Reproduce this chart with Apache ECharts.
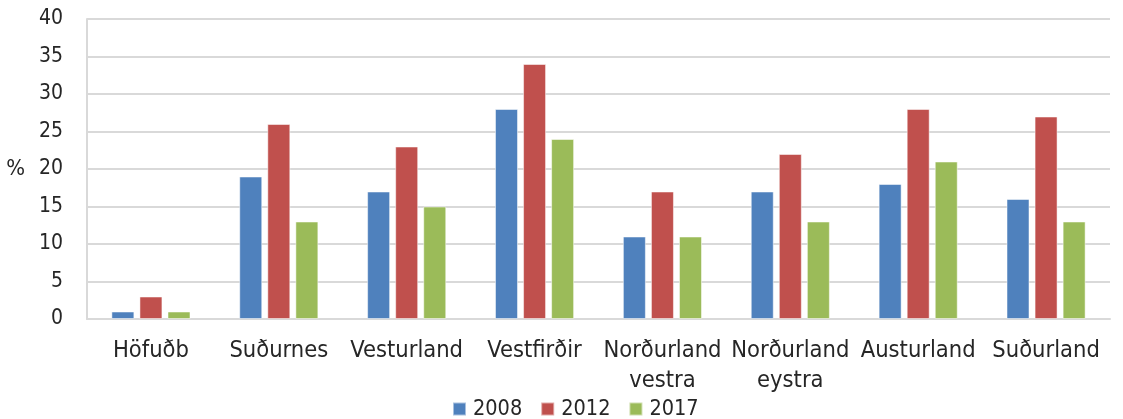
<!DOCTYPE html>
<html><head><meta charset="utf-8">
<script src="https://cdn.jsdelivr.net/npm/echarts@6/dist/echarts.min.js"></script>
<style>html,body{margin:0;padding:0;background:#fff}#c{width:1123px;height:419px}</style>
</head><body><div id="c"></div>
<script>
const categories = ['Höfuðb', 'Suðurnes', 'Vesturland', 'Vestfirðir', 'Norðurland\nvestra', 'Norðurland\neystra', 'Austurland', 'Suðurland'];
const s2008 = [1, 19, 17, 28, 11, 17, 18, 16];
const s2012 = [3, 26, 23, 34, 17, 22, 28, 27];
const s2017 = [1, 13, 15, 24, 11, 13, 21, 13];
const seriesNames = ['2008', '2012', '2017'];
const colors = ['#4f81bd', '#c0504d', '#9bbb59'];
const font = '"DejaVu Sans Condensed", "DejaVu Sans", sans-serif';
const txt = '#262626';
const chart = echarts.init(document.getElementById('c'));
const mk = (name, data, i) => ({
  name, type: 'bar', data, barWidth: 23, barGap: '22%',
  itemStyle: { color: colors[i], borderColor: 'rgba(255,255,255,0.5)', borderWidth: 1 }
});
chart.setOption({
  animation: false,
  textStyle: { fontFamily: font },
  grid: { left: 87, right: 13, top: 19, bottom: 100 },
  legend: {
    bottom: -6, left: 447, itemWidth: 13, itemHeight: 13, itemGap: 18,
    icon: 'rect',
    textStyle: { fontFamily: font, fontSize: 21.5, color: txt, padding: [0, 0, 0, 2] },
    data: seriesNames
  },
  xAxis: {
    type: 'category', data: categories,
    axisLine: { lineStyle: { color: '#d9d9d9', width: 2 } },
    axisTick: { show: false },
    axisLabel: { fontFamily: font, fontSize: 23.5, color: txt, margin: 17, lineHeight: 30, interval: 0 }
  },
  yAxis: {
    type: 'value', min: 0, max: 40, interval: 5,
    name: '%', nameLocation: 'middle', nameRotate: 0, nameGap: 62,
    nameTextStyle: { fontFamily: font, fontSize: 22, color: txt },
    axisLine: { show: true, lineStyle: { color: '#d9d9d9', width: 2 } },
    axisTick: { show: false },
    axisLabel: { fontFamily: font, fontSize: 21, color: txt, margin: 24 },
    splitLine: { lineStyle: { color: '#d9d9d9', width: 2 } }
  },
  series: [mk(seriesNames[0], s2008, 0), mk(seriesNames[1], s2012, 1), mk(seriesNames[2], s2017, 2)]
});
</script></body></html>
